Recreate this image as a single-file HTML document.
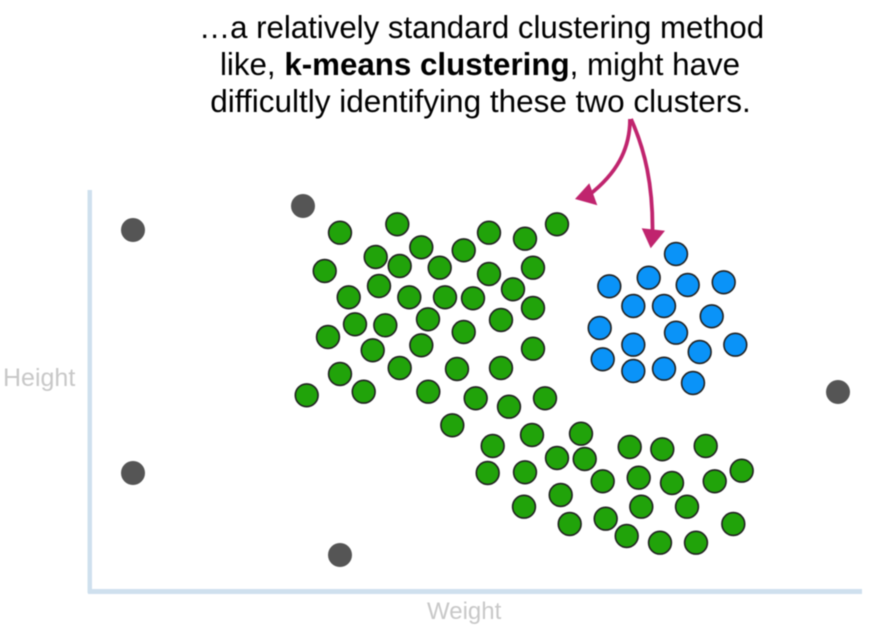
<!DOCTYPE html>
<html><head><meta charset="utf-8"><style>
html,body{margin:0;padding:0;background:#fff;width:875px;height:641px;overflow:hidden}
svg{display:block;filter:blur(0.45px)}
text{font-family:"Liberation Sans",Arial,sans-serif}
</style></head><body>
<svg width="875" height="641" viewBox="0 0 875 641" xmlns="http://www.w3.org/2000/svg">
<rect width="875" height="641" fill="#fff"/>
<rect x="87.5" y="190" width="4.500" height="403" fill="#cfe0ee"/>
<rect x="88" y="589" width="774" height="5" fill="#cfe0ee"/>
<g text-anchor="middle" fill="#000">
<text x="481.500" y="38" font-size="31.2">…a relatively standard clustering method</text>
<text x="480" y="75" font-size="31.3">like, <tspan font-weight="bold">k-means clustering</tspan>, might have</text>
<text x="480.500" y="112" font-size="31.5">difficultly identifying these two clusters.</text>
</g>
<g fill="#c8c8c8">
<text x="3" y="386" font-size="25">Height</text>
<text x="427" y="619" font-size="24">Weight</text>
</g>
<g fill="#555">
<circle cx="133" cy="230" r="12"/><circle cx="303" cy="206" r="12"/><circle cx="838" cy="392" r="12"/><circle cx="133" cy="473" r="12"/><circle cx="340" cy="555" r="12"/>
</g>
<g fill="#21a30a" stroke="#222" stroke-width="1.600">
<circle cx="340" cy="232.700" r="11.400"/><circle cx="397.300" cy="224.300" r="11.400"/><circle cx="421.300" cy="247.300" r="11.400"/><circle cx="375.700" cy="257" r="11.400"/><circle cx="399.700" cy="266" r="11.400"/><circle cx="439.700" cy="267.700" r="11.400"/><circle cx="463.700" cy="250.300" r="11.400"/><circle cx="489" cy="232.700" r="11.400"/><circle cx="525" cy="238.700" r="11.400"/><circle cx="557" cy="224.300" r="11.400"/><circle cx="324.700" cy="271" r="11.400"/><circle cx="489" cy="274" r="11.400"/><circle cx="533" cy="267.700" r="11.400"/><circle cx="379" cy="286" r="11.400"/><circle cx="348.700" cy="297.300" r="11.400"/><circle cx="409.300" cy="297.300" r="11.400"/><circle cx="445" cy="297.300" r="11.400"/><circle cx="473" cy="298.300" r="11.400"/><circle cx="513" cy="289.300" r="11.400"/><circle cx="533" cy="308" r="11.400"/><circle cx="428" cy="319.300" r="11.400"/><circle cx="501" cy="320" r="11.400"/><circle cx="355" cy="324.300" r="11.400"/><circle cx="385.300" cy="325.300" r="11.400"/><circle cx="328" cy="337" r="11.400"/><circle cx="463.700" cy="332" r="11.400"/><circle cx="372.700" cy="350.300" r="11.400"/><circle cx="421.300" cy="345.300" r="11.400"/><circle cx="533" cy="348.700" r="11.400"/><circle cx="399.700" cy="368" r="11.400"/><circle cx="457" cy="369" r="11.400"/><circle cx="501" cy="368" r="11.400"/><circle cx="340" cy="374" r="11.400"/><circle cx="363.700" cy="391.700" r="11.400"/><circle cx="306.700" cy="395.300" r="11.400"/><circle cx="428.300" cy="391.700" r="11.400"/><circle cx="475.700" cy="398.300" r="11.400"/><circle cx="509" cy="406.700" r="11.400"/><circle cx="545" cy="398.300" r="11.400"/>
<circle cx="452.300" cy="425.300" r="11.400"/><circle cx="492.700" cy="446" r="11.400"/><circle cx="532" cy="435" r="11.400"/><circle cx="581" cy="433.700" r="11.400"/><circle cx="557" cy="458" r="11.400"/><circle cx="584.700" cy="459" r="11.400"/><circle cx="629.700" cy="447" r="11.400"/><circle cx="662.300" cy="449.300" r="11.400"/><circle cx="705.700" cy="446" r="11.400"/><circle cx="487.700" cy="473" r="11.400"/><circle cx="525" cy="472.300" r="11.400"/><circle cx="602.700" cy="481.300" r="11.400"/><circle cx="638.700" cy="477.700" r="11.400"/><circle cx="672" cy="483" r="11.400"/><circle cx="714.700" cy="481.300" r="11.400"/><circle cx="741.700" cy="470.700" r="11.400"/><circle cx="560.700" cy="495" r="11.400"/><circle cx="524" cy="506.700" r="11.400"/><circle cx="641.300" cy="506.700" r="11.400"/><circle cx="687" cy="506.700" r="11.400"/><circle cx="569.700" cy="524" r="11.400"/><circle cx="605.700" cy="518.700" r="11.400"/><circle cx="626.700" cy="536" r="11.400"/><circle cx="660" cy="542.700" r="11.400"/><circle cx="696" cy="542.700" r="11.400"/><circle cx="733.300" cy="524" r="11.400"/>
</g>
<g fill="#0a93f8" stroke="#222" stroke-width="1.600">
<circle cx="676" cy="254" r="11.400"/><circle cx="648.700" cy="277.700" r="11.400"/><circle cx="609.300" cy="286.300" r="11.400"/><circle cx="687.700" cy="285" r="11.400"/><circle cx="723.700" cy="282.300" r="11.400"/><circle cx="633.300" cy="306" r="11.400"/><circle cx="664" cy="306" r="11.400"/><circle cx="711.700" cy="316.300" r="11.400"/><circle cx="599.700" cy="328" r="11.400"/><circle cx="676" cy="332.700" r="11.400"/><circle cx="633.300" cy="344.700" r="11.400"/><circle cx="735.300" cy="344.700" r="11.400"/><circle cx="699.700" cy="352" r="11.400"/><circle cx="602.700" cy="359.300" r="11.400"/><circle cx="633.300" cy="371" r="11.400"/><circle cx="664" cy="368.700" r="11.400"/><circle cx="693" cy="383" r="11.400"/>
</g>
<g fill="none" stroke="#c0246e" stroke-width="3.800">
<path d="M630 119C630 150 616 174 589 195"/>
<path d="M631 119C645 150 653 185 652.500 232"/>
</g>
<g fill="#c0246e">
<path d="M575 199L589.300 183.300L597.300 205.300Z"/>
<path d="M641.700 228.300L665 230.700L650.700 248.300Z"/>
</g>
</svg>
</body></html>
